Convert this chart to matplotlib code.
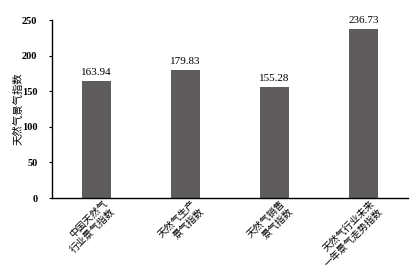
import matplotlib
matplotlib.use("Agg")
import matplotlib.pyplot as plt
import matplotlib.transforms as mtransforms

categories = ["中国天然气\n行业景气指数", "天然气生产\n景气指数", "天然气销售\n景气指数", "天然气行业未来\n一年景气走势指数"]
values = [163.94, 179.83, 155.28, 236.73]
yticks = [0, 50, 100, 150, 200, 250]

plt.rcParams['font.family'] = ['Liberation Serif', 'Noto Sans CJK SC']

fig = plt.figure(figsize=(4.14, 2.79), dpi=100)
ax = fig.add_axes([52/414, 1 - 198/279, 356/414, 178/279])

x = range(len(values))
ax.bar(x, values, width=0.315, color='#5e5c5d')
for i, v in enumerate(values):
	ax.text(i, v + 6, '{:.2f}'.format(v), ha='center', va='bottom', fontsize=8)

ax.set_xlim(-0.5, 3.5)
ax.set_ylim(0, 250)
ax.set_yticks(yticks)
ax.set_yticklabels([str(t) for t in yticks], fontsize=7.5, fontweight='bold')
ax.tick_params(axis='y', length=2.5, width=0.8, pad=8)
ax.tick_params(axis='x', length=0)
ax.set_xticks(list(x))
offset = mtransforms.ScaledTranslation(13/100, -3/100, fig.dpi_scale_trans)
ax.set_xticklabels(categories, rotation=45, ha='right', va='center',
	rotation_mode='anchor', fontsize=7, family=['Noto Sans CJK SC'], linespacing=1.15)
for lab in ax.get_xticklabels():
	lab.set_transform(lab.get_transform() + offset)
ax.set_ylabel('天然气景气指数', family=['Noto Sans CJK SC'], fontsize=7.5, labelpad=-1)

for s in ['top', 'right']:
	ax.spines[s].set_visible(False)
for s in ['left', 'bottom']:
	ax.spines[s].set_linewidth(1.0)

fig.savefig('out.png', dpi=100)
